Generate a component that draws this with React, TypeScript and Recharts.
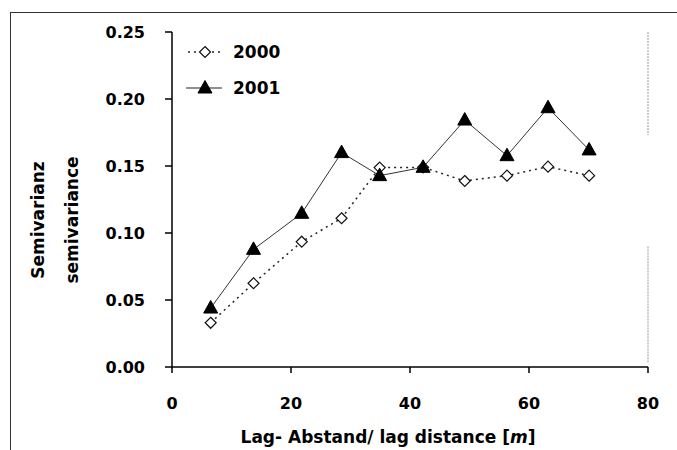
import React from "react";
import {
  LineChart,
  Line,
  XAxis,
  YAxis,
  Legend,
  ReferenceLine,
} from "recharts";

// lag distance [m]
const lags = [6.5, 13.7, 21.8, 28.5, 34.9, 42.2, 49.2, 56.3, 63.2, 70.1];
const semi2000 = [0.033, 0.0625, 0.0935, 0.111, 0.1488, 0.149, 0.1388, 0.1428, 0.1495, 0.1428];
const semi2001 = [0.044, 0.0878, 0.1147, 0.16, 0.1428, 0.149, 0.1843, 0.1577, 0.1935, 0.162];
const xTicks = [0, 20, 40, 60, 80];
const yTicks = [0, 0.05, 0.1, 0.15, 0.2, 0.25];

const FONT = "'DejaVu Sans', Arial, sans-serif";

const rows = lags.map((lag, i) => ({
  lag,
  y2000: semi2000[i],
  y2001: semi2001[i],
}));

function Diamond(props: any) {
  const { cx, cy } = props;
  if (cx == null || cy == null) return null;
  const r = 5.5;
  return (
    <path
      d={`M${cx},${cy - r} L${cx + r},${cy} L${cx},${cy + r} L${cx - r},${cy} Z`}
      fill="#fff"
      stroke="#111"
      strokeWidth={1.2}
    />
  );
}

function Triangle(props: any) {
  const { cx, cy } = props;
  if (cx == null || cy == null) return null;
  return (
    <path
      d={`M${cx},${cy - 7.5} L${cx + 7},${cy + 5} L${cx - 7},${cy + 5} Z`}
      fill="#000"
      stroke="#000"
    />
  );
}

function LegendBox() {
  return (
    <svg width={130} height={76} style={{ fontFamily: FONT }}>
      <line x1={8} x2={42} y1={22} y2={22} stroke="#222" strokeWidth={1.5} strokeDasharray="2 4" />
      <Diamond cx={25} cy={22} />
      <text x={53} y={22} dy="0.36em" fontSize={17} fontWeight="bold" fill="#000">
        2000
      </text>
      <line x1={6} x2={42} y1={58} y2={58} stroke="#222" strokeWidth={1} />
      <Triangle cx={25} cy={58} />
      <text x={53} y={58} dy="0.36em" fontSize={17} fontWeight="bold" fill="#000">
        2001
      </text>
    </svg>
  );
}

function YLabel() {
  return (
    <g style={{ fontFamily: FONT }} fontSize={17} fontWeight="bold" fill="#000">
      <text x={38} y={220} transform="rotate(-90 38 220)" textAnchor="middle" dy="0.36em">
        Semivarianz
      </text>
      <text x={72} y={220} transform="rotate(-90 72 220)" textAnchor="middle" dy="0.36em">
        semivariance
      </text>
    </g>
  );
}

function XLabel(props: any) {
  const vb = props.viewBox || {};
  const cx = (vb.x ?? 0) + (vb.width ?? 0) / 2 - 22;
  const y = (vb.y ?? 0) + (vb.height ?? 0) - 7;
  return (
    <text
      x={cx}
      y={y}
      textAnchor="middle"
      fontSize={17}
      fontWeight="bold"
      fill="#000"
      style={{ fontFamily: FONT }}
    >
      Lag- Abstand/ lag distance [<tspan fontStyle="italic">m</tspan>]
    </text>
  );
}

export default function App() {
  return (
    <div
      style={{
        position: "absolute",
        left: 0,
        top: 0,
        width: 677,
        height: 450,
        background: "#fff",
        overflow: "hidden",
      }}
    >
      <div
        style={{
          position: "absolute",
          left: 10,
          top: 12,
          width: 700,
          height: 460,
          borderLeft: "1px solid #333",
          borderTop: "1px solid #333",
        }}
      />
      <div style={{ position: "absolute", left: 0, top: 0 }}>
        <LineChart
          width={677}
          height={450}
          data={rows}
          margin={{ top: 32, right: 29, left: 0, bottom: 0 }}
          style={{ fontFamily: FONT }}
        >
          <XAxis
            type="number"
            dataKey="lag"
            domain={[0, 80]}
            ticks={xTicks}
            height={83}
            tickSize={6}
            tickMargin={25}
            axisLine={{ stroke: "#000", strokeWidth: 1.5 }}
            tickLine={{ stroke: "#000", strokeWidth: 1.5 }}
            tick={{ fill: "#000", fontSize: 16, fontWeight: "bold" }}
            label={{ content: (p: any) => <XLabel {...p} /> }}
          />
          <YAxis
            type="number"
            domain={[0, 0.25]}
            ticks={yTicks}
            width={172}
            tickSize={7}
            tickMargin={20}
            tickFormatter={(v) => Number(v).toFixed(2)}
            axisLine={{ stroke: "#000", strokeWidth: 1.5 }}
            tickLine={{ stroke: "#000", strokeWidth: 1.5 }}
            tick={{ fill: "#000", fontSize: 16, fontWeight: "bold" }}
            label={{ content: () => <YLabel /> }}
          />
          <ReferenceLine
            segment={[
              { x: 80, y: 0.25 },
              { x: 80, y: 0.173 },
            ]}
            stroke="#999"
            strokeDasharray="2 1"
          />
          <ReferenceLine
            segment={[
              { x: 80, y: 0.09 },
              { x: 80, y: 0.003 },
            ]}
            stroke="#999"
            strokeDasharray="2 1"
          />
          <Legend
            layout="vertical"
            align="center"
            verticalAlign="middle"
            wrapperStyle={{ left: 180, top: 30, width: 130, height: 76 }}
            content={() => <LegendBox />}
          />
          <Line
            dataKey="y2000"
            name="2000"
            stroke="#222"
            strokeWidth={1.5}
            strokeDasharray="2 4"
            dot={<Diamond />}
            activeDot={false}
            isAnimationActive={false}
          />
          <Line
            dataKey="y2001"
            name="2001"
            stroke="#333"
            strokeWidth={1}
            dot={<Triangle />}
            activeDot={false}
            isAnimationActive={false}
          />
        </LineChart>
      </div>
    </div>
  );
}
